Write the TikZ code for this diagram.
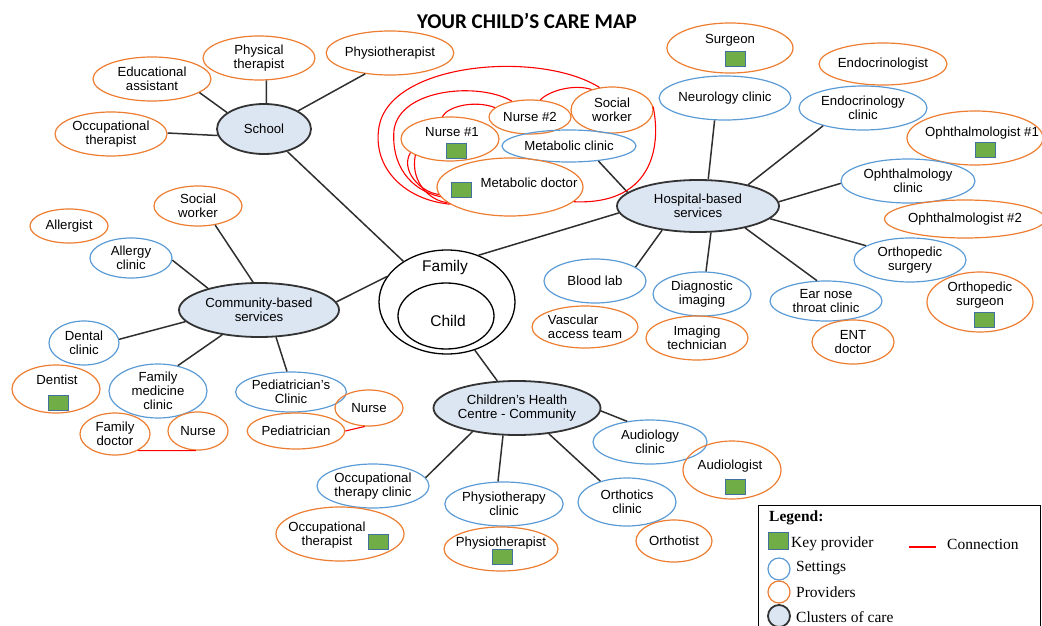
\documentclass[tikz,border=0pt]{standalone}
\usepackage{fontspec}
\setmainfont{Liberation Sans}
\newfontfamily\titlefont{Carlito}
\newfontfamily\legendfont{Liberation Serif}
\usetikzlibrary{shapes.geometric}

\definecolor{provorange}{HTML}{ED7D31}
\definecolor{setblue}{HTML}{5B9BD5}
\definecolor{clusfill}{HTML}{DCE6F2}
\definecolor{clusline}{HTML}{333333}
\definecolor{keygreen}{HTML}{70AD47}
\definecolor{keyedge}{HTML}{41719C}
\definecolor{linkgray}{HTML}{2F2F2F}

\newcommand\bodyfont{\fontsize{13.2}{14}\selectfont}

\tikzset{
  prov/.style={ellipse, draw=provorange, line width=1.2pt, inner sep=0pt, align=center, font=\bodyfont},
  sett/.style={ellipse, draw=setblue, line width=1.2pt, inner sep=0pt, align=center, font=\bodyfont},
  clus/.style={ellipse, draw=clusline, line width=1.8pt, fill=clusfill, inner sep=0pt, align=center, font=\bodyfont},
  ring/.style={ellipse, draw=black, line width=1.3pt, inner sep=0pt},
  txt/.style={inner sep=0pt, align=center, font=\bodyfont},
  keybox/.style={rectangle, draw=keyedge, line width=0.8pt, fill=keygreen, minimum width=20, minimum height=15, inner sep=0pt},
  link/.style={draw=linkgray, line width=1.5pt},
  conn/.style={draw=red, line width=1.1pt},
  legtxt/.style={inner sep=0pt, anchor=west, font=\legendfont\fontsize{15.5}{17}\selectfont},
}

\begin{document}
\begin{tikzpicture}[x=1pt,y=-1pt]
\useasboundingbox (0,0) rectangle (1042,626);

% title
\node[inner sep=0pt] (title) at (527,21) {\titlefont\bfseries\fontsize{21}{23}\selectfont YOUR CHILD’S CARE MAP};

% ---------- centre ----------
\node[ring, minimum width=136, minimum height=104] (family) at (447,302) {};
\node[ring, minimum width=96, minimum height=66] (child) at (446,316) {};
\node[txt, font=\fontsize{15.5}{17}\selectfont] (family-t) at (445,267) {Family};
\node[txt, font=\fontsize{15.5}{17}\selectfont] (child-t) at (448,321) {Child};

% ---------- school ----------
\node[clus, minimum width=94, minimum height=50] (school) at (264,129) {School};
\node[prov, minimum width=118, minimum height=44] (educ) at (152,79) {Educational\\assistant};
\node[prov, minimum width=112, minimum height=44] (phys) at (259,58) {Physical\\therapist};
\node[prov, minimum width=114, minimum height=44] (physio1) at (390,53) {Physiotherapist};
\node[prov, minimum width=112, minimum height=44] (occ1) at (111,134) {Occupational\\therapist};

% ---------- metabolic group ----------
\node[prov, minimum width=98, minimum height=44] (nurse1) at (450,139) {};
\node[txt] (nurse1-t) at (452,132) {Nurse \#1};
\node[keybox] (nurse1-k) at (456,151) {};
\node[prov, minimum width=82, minimum height=34] (nurse2) at (530,117) {Nurse \#2};
\node[prov, minimum width=82, minimum height=46] (sw1) at (612,110) {Social\\worker};
\node[sett, minimum width=134, minimum height=32] (metclin) at (569,146) {Metabolic clinic};
\node[prov, minimum width=146, minimum height=58] (metdoc) at (510,187) {};
\node[txt] (metdoc-t) at (529,183) {Metabolic doctor};
\node[keybox] (metdoc-k) at (461,190) {};

% ---------- hospital ----------
\node[clus, minimum width=162, minimum height=52] (hosp) at (698,206) {Hospital-based\\services};
\node[prov, minimum width=126, minimum height=50] (surgeon) at (730,48) {};
\node[txt] (surgeon-t) at (730,40) {Surgeon};
\node[keybox] (surgeon-k) at (735,59) {};
\node[prov, minimum width=128, minimum height=42] (endo) at (883,64) {Endocrinologist};
\node[sett, minimum width=128, minimum height=44] (neuro) at (725,98) {Neurology clinic};
\node[sett, minimum width=128, minimum height=44] (endoclin) at (863,108) {Endocrinology\\clinic};
\node[prov, minimum width=136, minimum height=54] (oph1) at (975,138) {};
\node[txt] (oph1-t) at (982,133) {Ophthalmologist \#1};
\node[keybox] (oph1-k) at (985,150) {};
\node[sett, minimum width=134, minimum height=44] (ophclin) at (908,181) {Ophthalmology\\clinic};
\node[prov, minimum width=144, minimum height=38] (oph2) at (965,219) {Ophthalmologist \#2};
\node[sett, minimum width=112, minimum height=44] (orthsurg) at (910,260) {Orthopedic\\surgery};
\node[prov, minimum width=106, minimum height=60] (orthsurgeon) at (980,302) {};
\node[txt] (orthsurgeon-t) at (980,295) {Orthopedic\\surgeon};
\node[keybox] (orthsurgeon-k) at (984,320) {};
\node[sett, minimum width=102, minimum height=44] (blood) at (595,281) {Blood lab};
\node[prov, minimum width=106, minimum height=42, align=left] (vasc) at (585,327) {Vascular\\access team};
\node[sett, minimum width=98, minimum height=44] (diag) at (702,294) {Diagnostic\\imaging};
\node[prov, minimum width=102, minimum height=44] (imgtech) at (697,338) {Imaging\\technician};
\node[sett, minimum width=112, minimum height=40] (ent) at (826,301) {Ear nose\\throat clinic};
\node[prov, minimum width=82, minimum height=44] (entdoc) at (853,342) {ENT\\doctor};

% ---------- community ----------
\node[clus, minimum width=160, minimum height=54] (comm) at (259,310) {Community-based\\services};
\node[prov, minimum width=88, minimum height=40] (sw2) at (198,206) {Social\\worker};
\node[prov, minimum width=78, minimum height=34] (allergist) at (69,226) {Allergist};
\node[sett, minimum width=82, minimum height=40] (allergy) at (131,258) {Allergy\\clinic};
\node[sett, minimum width=70, minimum height=44] (dental) at (84,343) {Dental\\clinic};
\node[prov, minimum width=88, minimum height=48] (dentist) at (56,389) {};
\node[txt] (dentist-t) at (57,380) {Dentist};
\node[keybox] (dentist-k) at (58,403) {};
\node[sett, minimum width=98, minimum height=54] (fammed) at (158,391) {Family\\medicine\\clinic};
\node[prov, minimum width=70, minimum height=42] (famdoc) at (115,434) {Family\\doctor};
\node[prov, minimum width=60, minimum height=38] (nurse3) at (198,431) {Nurse};
\node[sett, minimum width=98, minimum height=40] (pedclin) at (291,392) {Pediatrician’s\\Clinic};
\node[prov, minimum width=68, minimum height=36] (nurse4) at (369,408) {Nurse};
\node[prov, minimum width=86, minimum height=36] (ped) at (296,431) {Pediatrician};

% ---------- children's health centre ----------
\node[clus, minimum width=160, minimum height=54] (chc) at (517,408) {Children’s Health\\Centre - Community};
\node[sett, minimum width=114, minimum height=44] (audclin) at (650,442) {Audiology\\clinic};
\node[prov, minimum width=98, minimum height=58] (aud) at (732,470) {};
\node[txt] (aud-t) at (730,466) {Audiologist};
\node[keybox] (aud-k) at (735,487) {};
\node[sett, minimum width=112, minimum height=44] (otclin) at (373,486) {Occupational\\therapy clinic};
\node[prov, minimum width=128, minimum height=54] (ot2) at (340,534) {};
\node[txt] (ot2-t) at (327,535) {Occupational\\therapist};
\node[keybox] (ot2-k) at (378,542) {};
\node[sett, minimum width=114, minimum height=44] (physclin) at (504,504) {Physiotherapy\\clinic};
\node[prov, minimum width=114, minimum height=44] (physio2) at (501,549) {};
\node[txt] (physio2-t) at (501,543) {Physiotherapist};
\node[keybox] (physio2-k) at (502,557) {};
\node[sett, minimum width=98, minimum height=48] (orthclin) at (627,502) {Orthotics\\clinic};
\node[prov, minimum width=76, minimum height=42] (orthotist) at (674,541) {Orthotist};

% ---------- links ----------
\draw[link] (educ.-16) -- (school.156);
\draw[link] (phys.-72) -- (school.85);
\draw[link] (physio1.220) -- (school.28);
\draw[link] (occ1.1) -- (school.188);
\draw[link] (school.-44) -- (family.137);
\draw[link] (comm.6) -- (family.157);
\draw[link] (hosp.185) -- (family.56);
\draw[link] (family.-60) -- (chc.126);

\draw[link] (sw2.-48) -- (comm.102);
\draw[link] (allergy.-3) -- (comm.157);
\draw[link] (dental.6) -- (comm.189);
\draw[link] (fammed.52) -- (comm.214);
\draw[link] (pedclin.101) -- (comm.-58);

\draw[link] (neuro.245) -- (hosp.69);
\draw[link] (endoclin.204) -- (hosp.23);
\draw[link] (ophclin.182) -- (hosp.3);
\draw[link] (metclin.-27) -- (hosp.169);
\draw[link] (orthsurg.162) -- (hosp.-10);
\draw[link] (ent.114) -- (hosp.-25);
\draw[link] (diag.80) -- (hosp.-64);
\draw[link] (blood.19) -- (hosp.214);

\draw[link] (audclin.138) -- (chc.-2);
\draw[link] (otclin.9) -- (chc.208);
\draw[link] (physclin.105) -- (chc.243);
\draw[link] (orthclin.142) -- (chc.-39);

% ---------- connections ----------
\draw[conn] (famdoc.-36) -- (nurse3.264);
\draw[conn] (ped.0) -- (nurse4.257);

\draw[conn] (sw1.119) .. controls (540,50) and (390,62) .. (379,127)
  .. controls (372,168) and (405,200) .. (metdoc.196);
\draw[conn] (nurse2.139) .. controls (480,82) and (400,88) .. (394,130)
  .. controls (391,165) and (410,190) .. (metdoc.188);
\draw[conn] (nurse2.59) .. controls (550,90) and (575,84) .. (sw1.135);
\draw[conn] (nurse1.109) .. controls (448,106) and (475,100) .. (nurse2.165);
\draw[conn] (sw1.5) .. controls (662,150) and (650,205) .. (metdoc.-13);
\draw[conn] (nurse1.199) .. controls (400,170) and (420,192) .. (metdoc.186);
\draw[conn] (nurse1.205) .. controls (410,182) and (430,201) .. (metdoc.194);

% ---------- legend ----------
\node[draw=black, line width=1pt, minimum width=282, minimum height=140, anchor=north west, inner sep=0pt] (legendbox) at (758,505) {};
\node[legtxt, font=\legendfont\bfseries\fontsize{15.5}{17}\selectfont] (leg-title) at (769,518) {Legend:};
\node[keybox, minimum height=17] (leg-key) at (778,541) {};
\node[legtxt] (leg-key-t) at (791,544) {Key provider};
\coordinate (leg-c1) at (909,547);
\coordinate (leg-c2) at (936,547);
\draw[conn, line width=2pt] (leg-c1) -- (leg-c2);
\node[legtxt] (leg-conn-t) at (947,544) {Connection};
\node[circle, draw=setblue, line width=1.2pt, minimum size=22, inner sep=0pt] (leg-set) at (779,569) {};
\node[legtxt] (leg-set-t) at (796,568) {Settings};
\node[circle, draw=provorange, line width=1.2pt, minimum size=22, inner sep=0pt] (leg-prov) at (779,592) {};
\node[legtxt] (leg-prov-t) at (796,592) {Providers};
\node[circle, draw=clusline, line width=1.8pt, fill=clusfill, minimum size=22, inner sep=0pt] (leg-clus) at (779,616) {};
\node[legtxt] (leg-clus-t) at (796,617) {Clusters of care};
\end{tikzpicture}
\end{document}
